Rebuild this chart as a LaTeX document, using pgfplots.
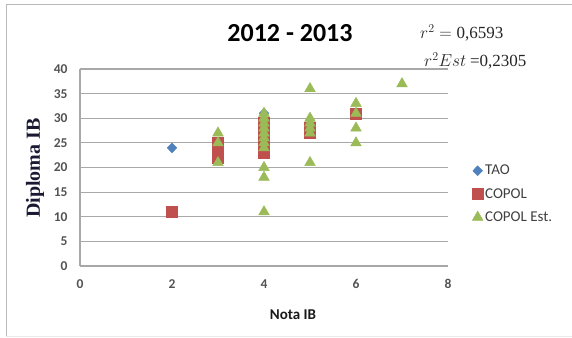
\documentclass[border=0pt]{standalone}
\usepackage{fontspec}
\setmainfont{Carlito}
\newfontfamily\serifb{Liberation Serif}
\usepackage{pgfplots}
\pgfplotsset{compat=1.18}
\definecolor{taoblue}{HTML}{4F81BD}
\definecolor{copred}{HTML}{C0504D}
\definecolor{estgreen}{HTML}{9BBB59}
\definecolor{gridgray}{HTML}{A8A8A8}
\definecolor{ticktext}{HTML}{404040}
\begin{document}
\begin{tikzpicture}[x=1pt,y=1pt]
\path[use as bounding box] (0,0) rectangle (572,337);
\draw[color=gridgray!80, line width=0.8pt] (572,333) -- (6,333) -- (6,1);
\draw[color=gridgray!25, line width=0.8pt] (6,1) -- (572,1);
\begin{axis}[
  at={(80pt,71pt)}, anchor=south west,
  scale only axis, width=368pt, height=197pt,
  xmin=0, xmax=8, ymin=0, ymax=40,
  xtick={0,2,4,6,8}, ytick={0,5,...,40},
  axis x line*=bottom, axis y line*=left,
  axis line style={gridgray, line width=1.2pt},
  ymajorgrids, grid style={gridgray, line width=1.2pt},
  major tick length=0pt,
  tick label style={font=\fontsize{13.5}{14}\selectfont\bfseries, text=ticktext!90},
  /pgf/number format/assume math mode=true,
  yticklabel style={xshift=-9pt},
  xticklabel style={yshift=-10pt},
  clip=false,
  legend style={draw=none, fill=none, at={(1.057,0.3655)}, anchor=west,
    font=\fontsize{15}{16}\selectfont, row sep=8pt, text=ticktext},
  legend cell align=left,
]
\addplot[only marks, mark=diamond*, mark size=5pt, mark options={xscale=1.3, fill=taoblue, draw=taoblue}] coordinates {
(2,24) (4,31)
};
\addlegendentry{TAO}
\addplot[only marks, mark=square*, mark size=5.5pt, mark options={fill=copred, draw=copred}] coordinates {
(2,11) (3,22) (3,23) (3,25) (4,23) (4,24) (4,25) (4,26) (4,27) (4,28) (4,29) (5,27) (5,28) (6,31)
};
\addlegendentry{COPOL}
\addplot[only marks, mark=triangle*, mark size=6.2pt, mark options={fill=estgreen, draw=estgreen}] coordinates {
(3,27) (3,25) (3,21)
(4,11) (4,18) (4,20) (4,24) (4,25) (4,26) (4,27) (4,28) (4,29) (4,30) (4,31)
(5,36) (5,30) (5,29) (5,28) (5,27) (5,21)
(6,33) (6,31) (6,28) (6,25)
(7,37)
};
\addlegendentry{COPOL Est.}
\end{axis}
\node[font=\fontsize{26}{28}\selectfont\bfseries] at (290,304) {2012 - 2013};
\node[anchor=west, inner sep=0pt, font=\fontsize{17}{18}\selectfont, text=black!85] at (420,304) {$r^2 = \mbox{\serifb 0,6593}$};
\node[anchor=west, inner sep=0pt, font=\fontsize{17}{18}\selectfont, text=black!85] at (424,276) {$r^2Est$ \serifb=0,2305};
\node[rotate=90, font=\serifb\fontsize{20}{22}\selectfont\bfseries, text={rgb,255:red,25;green,25;blue,50}] at (35,169) {Diploma IB};
\node[font=\fontsize{15}{16}\selectfont\bfseries, text=black!90] at (293,22) {Nota IB};
\end{tikzpicture}
\end{document}
